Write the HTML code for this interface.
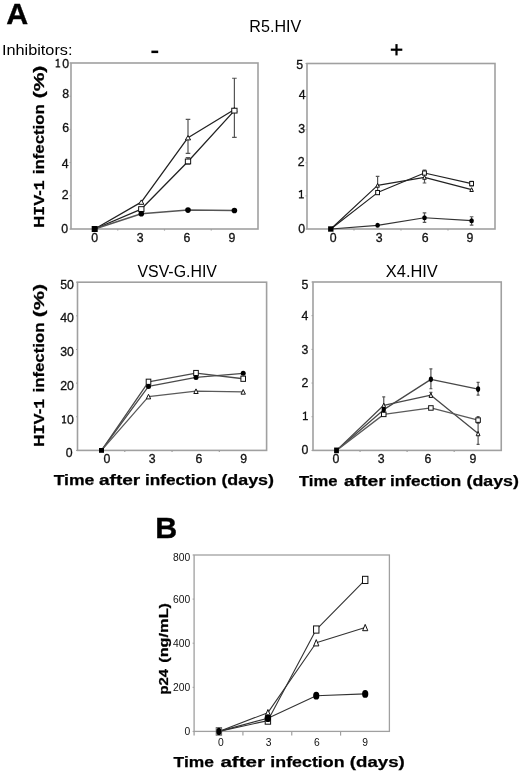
<!DOCTYPE html><html><head><meta charset="utf-8"><style>html,body{margin:0;padding:0;background:#fff;}svg{display:block;will-change:transform;} text{font-family:"Liberation Sans", sans-serif;}</style></head><body>
<svg width="520" height="772" viewBox="0 0 520 772">
<text x="6.2" y="24.3" font-size="30.4" text-anchor="start" font-weight="bold" fill="#000" stroke="#000" stroke-width="0.35" >A</text>
<text x="155.3" y="538.2" font-size="30.4" text-anchor="start" font-weight="bold" fill="#000" stroke="#000" stroke-width="0.35" >B</text>
<rect x="151.4" y="50.6" width="6.8" height="2.5" fill="#000"/>
<rect x="390.8" y="48.6" width="11.5" height="2.2" fill="#000"/>
<rect x="395.4" y="44.1" width="2.2" height="11.3" fill="#000"/>
<text x="1.9" y="54.9" font-size="15.4" font-weight="normal" fill="#000" textLength="70.59" lengthAdjust="spacingAndGlyphs" stroke="#000" stroke-width="0">Inhibitors:</text>
<text x="249.38" y="31.9" font-size="15.8" font-weight="normal" fill="#000" textLength="51.89" lengthAdjust="spacingAndGlyphs" stroke="#000" stroke-width="0">R5.HIV</text>
<text x="137.43" y="276.8" font-size="15.8" font-weight="normal" fill="#000" textLength="79.54" lengthAdjust="spacingAndGlyphs" stroke="#000" stroke-width="0">VSV-G.HIV</text>
<text x="385.83" y="276.9" font-size="15.8" font-weight="normal" fill="#000" textLength="51.94" lengthAdjust="spacingAndGlyphs" stroke="#000" stroke-width="0">X4.HIV</text>
<text x="53.7" y="485.2" font-size="14.0" font-weight="bold" fill="#000" textLength="40.69" lengthAdjust="spacingAndGlyphs" stroke="#000" stroke-width="0.25">Time</text>
<text x="98.94" y="485.2" font-size="14.0" font-weight="bold" fill="#000" textLength="41.35" lengthAdjust="spacingAndGlyphs" stroke="#000" stroke-width="0.25">after</text>
<text x="145" y="485.2" font-size="14.0" font-weight="bold" fill="#000" textLength="71.46" lengthAdjust="spacingAndGlyphs" stroke="#000" stroke-width="0.25">infection</text>
<text x="221.41" y="485.2" font-size="14.0" font-weight="bold" fill="#000" textLength="52.58" lengthAdjust="spacingAndGlyphs" stroke="#000" stroke-width="0.25">(days)</text>
<text x="299.01" y="486.2" font-size="14.0" font-weight="bold" fill="#000" textLength="38.45" lengthAdjust="spacingAndGlyphs" stroke="#000" stroke-width="0.25">Time</text>
<text x="344.04" y="486.2" font-size="14.0" font-weight="bold" fill="#000" textLength="41.65" lengthAdjust="spacingAndGlyphs" stroke="#000" stroke-width="0.25">after</text>
<text x="390.01" y="486.2" font-size="14.0" font-weight="bold" fill="#000" textLength="71.25" lengthAdjust="spacingAndGlyphs" stroke="#000" stroke-width="0.25">infection</text>
<text x="466.62" y="486.2" font-size="14.0" font-weight="bold" fill="#000" textLength="52.27" lengthAdjust="spacingAndGlyphs" stroke="#000" stroke-width="0.25">(days)</text>
<text x="173.61" y="766.8" font-size="14.6" font-weight="bold" fill="#000" textLength="40.28" lengthAdjust="spacingAndGlyphs" stroke="#000" stroke-width="0.25">Time</text>
<text x="220.4" y="766.8" font-size="14.6" font-weight="bold" fill="#000" textLength="44.61" lengthAdjust="spacingAndGlyphs" stroke="#000" stroke-width="0.25">after</text>
<text x="270.36" y="766.8" font-size="14.6" font-weight="bold" fill="#000" textLength="74.15" lengthAdjust="spacingAndGlyphs" stroke="#000" stroke-width="0.25">infection</text>
<text x="349.87" y="766.8" font-size="14.6" font-weight="bold" fill="#000" textLength="54.96" lengthAdjust="spacingAndGlyphs" stroke="#000" stroke-width="0.25">(days)</text>
<text transform="translate(44,0) rotate(-90)" x="-98.35" y="0" font-size="14.0" font-weight="bold" fill="#000" textLength="32.69" lengthAdjust="spacingAndGlyphs" stroke="#000" stroke-width="0.25">(%)</text>
<text transform="translate(44,0) rotate(-90)" x="-174.17" y="0" font-size="14.0" font-weight="bold" fill="#000" textLength="69.81" lengthAdjust="spacingAndGlyphs" stroke="#000" stroke-width="0.25">infection</text>
<text transform="translate(44,0) rotate(-90)" x="-227.79" y="0" font-size="14.0" font-weight="bold" fill="#000" textLength="47.48" lengthAdjust="spacingAndGlyphs" stroke="#000" stroke-width="0.25">H<tspan font-family="Liberation Mono">I</tspan>V-<tspan font-family="Liberation Mono">1</tspan></text>
<text transform="translate(44,0) rotate(-90)" x="-317.16" y="0" font-size="14.0" font-weight="bold" fill="#000" textLength="33.23" lengthAdjust="spacingAndGlyphs" stroke="#000" stroke-width="0.25">(%)</text>
<text transform="translate(44,0) rotate(-90)" x="-392.47" y="0" font-size="14.0" font-weight="bold" fill="#000" textLength="69.91" lengthAdjust="spacingAndGlyphs" stroke="#000" stroke-width="0.25">infection</text>
<text transform="translate(44,0) rotate(-90)" x="-446.7" y="0" font-size="14.0" font-weight="bold" fill="#000" textLength="48.1" lengthAdjust="spacingAndGlyphs" stroke="#000" stroke-width="0.25">H<tspan font-family="Liberation Mono">I</tspan>V-<tspan font-family="Liberation Mono">1</tspan></text>
<text transform="translate(168.3,0) rotate(-90)" x="-662.81" y="0" font-size="12.3" font-weight="bold" fill="#000" textLength="59.83" lengthAdjust="spacingAndGlyphs" stroke="#000" stroke-width="0.25">(ng/mL)</text>
<text transform="translate(168.3,0) rotate(-90)" x="-694.48" y="0" font-size="12.3" font-weight="bold" fill="#000" textLength="25.56" lengthAdjust="spacingAndGlyphs" stroke="#000" stroke-width="0.25">p24</text>
<rect x="71" y="63" width="187" height="166" fill="none" stroke="#a0a0a0" stroke-width="1.6"/>
<line x1="117.75" y1="229" x2="117.75" y2="230.6" stroke="#a0a0a0" stroke-width="1.2"/>
<line x1="164.5" y1="229" x2="164.5" y2="230.6" stroke="#a0a0a0" stroke-width="1.2"/>
<line x1="211.25" y1="229" x2="211.25" y2="230.6" stroke="#a0a0a0" stroke-width="1.2"/>
<line x1="69.5" y1="229" x2="71" y2="229" stroke="#a0a0a0" stroke-width="1"/>
<text x="68.1" y="232.94" font-size="12.3" text-anchor="end" font-weight="normal" fill="#111" stroke="#111" stroke-width="0.3" >0</text>
<line x1="69.5" y1="195.8" x2="71" y2="195.8" stroke="#a0a0a0" stroke-width="1"/>
<text x="68.6" y="199.14" font-size="12.3" text-anchor="end" font-weight="normal" fill="#111" stroke="#111" stroke-width="0.3" >2</text>
<line x1="69.5" y1="162.6" x2="71" y2="162.6" stroke="#a0a0a0" stroke-width="1"/>
<text x="68.7" y="167.54" font-size="12.3" text-anchor="end" font-weight="normal" fill="#111" stroke="#111" stroke-width="0.3" >4</text>
<line x1="69.5" y1="129.4" x2="71" y2="129.4" stroke="#a0a0a0" stroke-width="1"/>
<text x="69" y="132.24" font-size="12.3" text-anchor="end" font-weight="normal" fill="#111" stroke="#111" stroke-width="0.3" >6</text>
<line x1="69.5" y1="96.2" x2="71" y2="96.2" stroke="#a0a0a0" stroke-width="1"/>
<text x="69" y="98.04" font-size="12.3" text-anchor="end" font-weight="normal" fill="#111" stroke="#111" stroke-width="0.3" >8</text>
<line x1="69.5" y1="63" x2="71" y2="63" stroke="#a0a0a0" stroke-width="1"/>
<path d="M58 58.7V67.5M55.7 66.85H60.2M58.65 59.22L55.7 60.6" stroke="#111" stroke-width="1.3" fill="none"/>
<text x="69.2" y="67.64" font-size="12.3" text-anchor="end" font-weight="normal" fill="#111" stroke="#111" stroke-width="0.3" >0</text>
<text x="94.7" y="242.24" font-size="12.3" text-anchor="middle" font-weight="normal" fill="#111" stroke="#111" stroke-width="0.3" >0</text>
<text x="140.2" y="242.24" font-size="12.3" text-anchor="middle" font-weight="normal" fill="#111" stroke="#111" stroke-width="0.3" >3</text>
<text x="186.9" y="242.24" font-size="12.3" text-anchor="middle" font-weight="normal" fill="#111" stroke="#111" stroke-width="0.3" >6</text>
<text x="231.9" y="242.24" font-size="12.3" text-anchor="middle" font-weight="normal" fill="#111" stroke="#111" stroke-width="0.3" >9</text>
<path d="M188 119.44V153.47M185.7 119.44H190.3M185.7 153.47H190.3" stroke="#555" stroke-width="1.2" fill="none"/>
<path d="M188 157.62V164.26M185.7 157.62H190.3M185.7 164.26H190.3" stroke="#555" stroke-width="1.2" fill="none"/>
<path d="M234.4 78.27V137.37M232.1 78.27H236.7M232.1 137.37H236.7" stroke="#555" stroke-width="1.2" fill="none"/>
<polyline points="94.7,229 141.3,209.08 188,161.44 234.4,110.64" fill="none" stroke="#222" stroke-width="1.3" stroke-linejoin="round"/>
<polyline points="94.7,229 141.3,202.11 188,137.7 234.4,109.48" fill="none" stroke="#222" stroke-width="1.3" stroke-linejoin="round"/>
<polyline points="94.7,229 141.3,213.73 188,210.08 234.4,210.57" fill="none" stroke="#555" stroke-width="1.5" stroke-linejoin="round"/>
<polygon points="141.3,199.91 143.9,204.31 138.7,204.31" fill="#fff" stroke="#111" stroke-width="1.0" stroke-linejoin="miter"/>
<polygon points="188,135.5 190.6,139.9 185.4,139.9" fill="#fff" stroke="#111" stroke-width="1.0" stroke-linejoin="miter"/>
<polygon points="234.4,107.28 237,111.68 231.8,111.68" fill="#fff" stroke="#111" stroke-width="1.0" stroke-linejoin="miter"/>
<rect x="138.65" y="206.68" width="5.3" height="4.8" fill="#fff" stroke="#111" stroke-width="1.0"/>
<rect x="185.35" y="159.04" width="5.3" height="4.8" fill="#fff" stroke="#111" stroke-width="1.0"/>
<rect x="231.75" y="108.24" width="5.3" height="4.8" fill="#fff" stroke="#111" stroke-width="1.0"/>
<ellipse cx="141.3" cy="213.73" rx="2.8" ry="2.8" fill="#000"/>
<ellipse cx="188" cy="210.08" rx="2.8" ry="2.8" fill="#000"/>
<ellipse cx="234.4" cy="210.57" rx="2.8" ry="2.8" fill="#000"/>
<rect x="91.7" y="226" width="6" height="6" fill="#000"/>
<rect x="307" y="63.5" width="188" height="165.5" fill="none" stroke="#a0a0a0" stroke-width="1.6"/>
<line x1="354" y1="229" x2="354" y2="230.6" stroke="#a0a0a0" stroke-width="1.2"/>
<line x1="401" y1="229" x2="401" y2="230.6" stroke="#a0a0a0" stroke-width="1.2"/>
<line x1="448" y1="229" x2="448" y2="230.6" stroke="#a0a0a0" stroke-width="1.2"/>
<line x1="305.5" y1="229" x2="307" y2="229" stroke="#a0a0a0" stroke-width="1"/>
<text x="305" y="233.24" font-size="12.3" text-anchor="end" font-weight="normal" fill="#111" stroke="#111" stroke-width="0.3" >0</text>
<line x1="305.5" y1="195.9" x2="307" y2="195.9" stroke="#a0a0a0" stroke-width="1"/>
<path d="M301.45 189.9V198.6M298.9 197.95H303.9M302.1 190.42L298.9 191.8" stroke="#111" stroke-width="1.3" fill="none"/>
<line x1="305.5" y1="162.8" x2="307" y2="162.8" stroke="#a0a0a0" stroke-width="1"/>
<text x="304.6" y="165.94" font-size="12.3" text-anchor="end" font-weight="normal" fill="#111" stroke="#111" stroke-width="0.3" >2</text>
<line x1="305.5" y1="129.7" x2="307" y2="129.7" stroke="#a0a0a0" stroke-width="1"/>
<text x="305" y="132.64" font-size="12.3" text-anchor="end" font-weight="normal" fill="#111" stroke="#111" stroke-width="0.3" >3</text>
<line x1="305.5" y1="96.6" x2="307" y2="96.6" stroke="#a0a0a0" stroke-width="1"/>
<text x="305.5" y="98.64" font-size="12.3" text-anchor="end" font-weight="normal" fill="#111" stroke="#111" stroke-width="0.3" >4</text>
<line x1="305.5" y1="63.5" x2="307" y2="63.5" stroke="#a0a0a0" stroke-width="1"/>
<text x="303" y="69.44" font-size="12.3" text-anchor="end" font-weight="normal" fill="#111" stroke="#111" stroke-width="0.3" >5</text>
<text x="333.2" y="241.94" font-size="12.3" text-anchor="middle" font-weight="normal" fill="#111" stroke="#111" stroke-width="0.3" >0</text>
<text x="379.2" y="241.94" font-size="12.3" text-anchor="middle" font-weight="normal" fill="#111" stroke="#111" stroke-width="0.3" >3</text>
<text x="425.1" y="241.94" font-size="12.3" text-anchor="middle" font-weight="normal" fill="#111" stroke="#111" stroke-width="0.3" >6</text>
<text x="470" y="241.94" font-size="12.3" text-anchor="middle" font-weight="normal" fill="#111" stroke="#111" stroke-width="0.3" >9</text>
<path d="M377.6 176.37V192.59M375.8 176.37H379.4M375.8 192.59H379.4" stroke="#555" stroke-width="1.2" fill="none"/>
<path d="M424.5 170.08V182.99M422.7 170.08H426.3M422.7 182.99H426.3" stroke="#555" stroke-width="1.2" fill="none"/>
<path d="M424.5 212.78V222.38M422.7 212.78H426.3M422.7 222.38H426.3" stroke="#555" stroke-width="1.2" fill="none"/>
<path d="M471.6 216.75V225.03M469.8 216.75H473.4M469.8 225.03H473.4" stroke="#555" stroke-width="1.2" fill="none"/>
<path d="M471.6 181.34V185.97M469.8 181.34H473.4M469.8 185.97H473.4" stroke="#555" stroke-width="1.2" fill="none"/>
<polyline points="330.8,229 377.6,192.59 424.5,173.06 471.6,183.65" fill="none" stroke="#222" stroke-width="1.15" stroke-linejoin="round"/>
<polyline points="330.8,229 377.6,185.31 424.5,177.36 471.6,189.61" fill="none" stroke="#222" stroke-width="1.15" stroke-linejoin="round"/>
<polyline points="330.8,229 377.6,225.36 424.5,217.75 471.6,220.72" fill="none" stroke="#333" stroke-width="1.2" stroke-linejoin="round"/>
<polygon points="377.6,183.41 379.4,187.21 375.8,187.21" fill="#fff" stroke="#111" stroke-width="1.0" stroke-linejoin="miter"/>
<polygon points="424.5,175.46 426.3,179.26 422.7,179.26" fill="#fff" stroke="#111" stroke-width="1.0" stroke-linejoin="miter"/>
<polygon points="471.6,187.71 473.4,191.51 469.8,191.51" fill="#fff" stroke="#111" stroke-width="1.0" stroke-linejoin="miter"/>
<rect x="375.7" y="190.49" width="3.8" height="4.2" fill="#fff" stroke="#111" stroke-width="1.0"/>
<rect x="422.6" y="170.96" width="3.8" height="4.2" fill="#fff" stroke="#111" stroke-width="1.0"/>
<rect x="469.7" y="181.55" width="3.8" height="4.2" fill="#fff" stroke="#111" stroke-width="1.0"/>
<ellipse cx="377.6" cy="225.36" rx="2.3" ry="2.5" fill="#000"/>
<ellipse cx="424.5" cy="217.75" rx="2.3" ry="2.5" fill="#000"/>
<ellipse cx="471.6" cy="220.72" rx="2.3" ry="2.5" fill="#000"/>
<rect x="328.1" y="226.3" width="5.4" height="5.4" fill="#000"/>
<rect x="77.5" y="282.2" width="189.1" height="168.2" fill="none" stroke="#a0a0a0" stroke-width="1.6"/>
<line x1="124.78" y1="450.4" x2="124.78" y2="452" stroke="#a0a0a0" stroke-width="1.2"/>
<line x1="172.05" y1="450.4" x2="172.05" y2="452" stroke="#a0a0a0" stroke-width="1.2"/>
<line x1="219.33" y1="450.4" x2="219.33" y2="452" stroke="#a0a0a0" stroke-width="1.2"/>
<line x1="76" y1="450.4" x2="77.5" y2="450.4" stroke="#a0a0a0" stroke-width="1"/>
<text x="72.5" y="456.64" font-size="12.3" text-anchor="end" font-weight="normal" fill="#111" stroke="#111" stroke-width="0.3" >0</text>
<line x1="76" y1="416.76" x2="77.5" y2="416.76" stroke="#a0a0a0" stroke-width="1"/>
<path d="M64.19 415.3V423.6M62 422.95H66.3M64.84 415.82L62 417.2" stroke="#111" stroke-width="1.3" fill="none"/>
<text x="73.9" y="423.74" font-size="12.3" text-anchor="end" font-weight="normal" fill="#111" stroke="#111" stroke-width="0.3" >0</text>
<line x1="76" y1="383.12" x2="77.5" y2="383.12" stroke="#a0a0a0" stroke-width="1"/>
<text x="73.9" y="389.64" font-size="12.3" text-anchor="end" font-weight="normal" fill="#111" stroke="#111" stroke-width="0.3" >20</text>
<line x1="76" y1="349.48" x2="77.5" y2="349.48" stroke="#a0a0a0" stroke-width="1"/>
<text x="73.9" y="355.64" font-size="12.3" text-anchor="end" font-weight="normal" fill="#111" stroke="#111" stroke-width="0.3" >30</text>
<line x1="76" y1="315.84" x2="77.5" y2="315.84" stroke="#a0a0a0" stroke-width="1"/>
<text x="73.9" y="321.84" font-size="12.3" text-anchor="end" font-weight="normal" fill="#111" stroke="#111" stroke-width="0.3" >40</text>
<line x1="76" y1="282.2" x2="77.5" y2="282.2" stroke="#a0a0a0" stroke-width="1"/>
<text x="73.9" y="288.64" font-size="12.3" text-anchor="end" font-weight="normal" fill="#111" stroke="#111" stroke-width="0.3" >50</text>
<text x="106.9" y="463.14" font-size="12.3" text-anchor="middle" font-weight="normal" fill="#111" stroke="#111" stroke-width="0.3" >0</text>
<text x="152.2" y="463.14" font-size="12.3" text-anchor="middle" font-weight="normal" fill="#111" stroke="#111" stroke-width="0.3" >3</text>
<text x="198.9" y="463.14" font-size="12.3" text-anchor="middle" font-weight="normal" fill="#111" stroke="#111" stroke-width="0.3" >6</text>
<text x="243.6" y="463.14" font-size="12.3" text-anchor="middle" font-weight="normal" fill="#111" stroke="#111" stroke-width="0.3" >9</text>
<polyline points="101.5,450.4 148.5,381.77 196,373.03 243.2,378.75" fill="none" stroke="#4a4a4a" stroke-width="1.3" stroke-linejoin="round"/>
<polyline points="101.5,450.4 148.5,386.48 196,377.4 243.2,373.36" fill="none" stroke="#4a4a4a" stroke-width="1.3" stroke-linejoin="round"/>
<polyline points="101.5,450.4 148.5,396.58 196,391.19 243.2,391.87" fill="none" stroke="#5a5a5a" stroke-width="1.3" stroke-linejoin="round"/>
<polygon points="148.5,394.28 150.7,398.88 146.3,398.88" fill="#fff" stroke="#111" stroke-width="1.0" stroke-linejoin="miter"/>
<polygon points="196,388.89 198.2,393.49 193.8,393.49" fill="#fff" stroke="#111" stroke-width="1.0" stroke-linejoin="miter"/>
<polygon points="243.2,389.57 245.4,394.17 241,394.17" fill="#fff" stroke="#111" stroke-width="1.0" stroke-linejoin="miter"/>
<rect x="146.2" y="379.17" width="4.6" height="5.2" fill="#fff" stroke="#111" stroke-width="1.0"/>
<rect x="193.7" y="370.43" width="4.6" height="5.2" fill="#fff" stroke="#111" stroke-width="1.0"/>
<rect x="240.9" y="376.15" width="4.6" height="5.2" fill="#fff" stroke="#111" stroke-width="1.0"/>
<ellipse cx="148.5" cy="386.48" rx="2.5" ry="2.5" fill="#000"/>
<ellipse cx="196" cy="377.4" rx="2.5" ry="2.5" fill="#000"/>
<ellipse cx="243.2" cy="373.36" rx="2.5" ry="2.5" fill="#000"/>
<rect x="99" y="448" width="5" height="4.8" fill="#000"/>
<rect x="313" y="282" width="188.25" height="168.4" fill="none" stroke="#a0a0a0" stroke-width="1.6"/>
<line x1="360.06" y1="450.4" x2="360.06" y2="452" stroke="#a0a0a0" stroke-width="1.2"/>
<line x1="407.12" y1="450.4" x2="407.12" y2="452" stroke="#a0a0a0" stroke-width="1.2"/>
<line x1="454.19" y1="450.4" x2="454.19" y2="452" stroke="#a0a0a0" stroke-width="1.2"/>
<line x1="311.5" y1="450.4" x2="313" y2="450.4" stroke="#a0a0a0" stroke-width="1"/>
<text x="308.3" y="453.94" font-size="12.3" text-anchor="end" font-weight="normal" fill="#111" stroke="#111" stroke-width="0.3" >0</text>
<line x1="311.5" y1="416.72" x2="313" y2="416.72" stroke="#a0a0a0" stroke-width="1"/>
<path d="M305.45 411.6V420.2M302.9 419.55H307.9M306.1 412.12L302.9 413.5" stroke="#111" stroke-width="1.3" fill="none"/>
<line x1="311.5" y1="383.04" x2="313" y2="383.04" stroke="#a0a0a0" stroke-width="1"/>
<text x="308.3" y="387.24" font-size="12.3" text-anchor="end" font-weight="normal" fill="#111" stroke="#111" stroke-width="0.3" >2</text>
<line x1="311.5" y1="349.36" x2="313" y2="349.36" stroke="#a0a0a0" stroke-width="1"/>
<text x="308.3" y="354.34" font-size="12.3" text-anchor="end" font-weight="normal" fill="#111" stroke="#111" stroke-width="0.3" >3</text>
<line x1="311.5" y1="315.68" x2="313" y2="315.68" stroke="#a0a0a0" stroke-width="1"/>
<text x="308.3" y="319.64" font-size="12.3" text-anchor="end" font-weight="normal" fill="#111" stroke="#111" stroke-width="0.3" >4</text>
<line x1="311.5" y1="282" x2="313" y2="282" stroke="#a0a0a0" stroke-width="1"/>
<text x="308.3" y="288.64" font-size="12.3" text-anchor="end" font-weight="normal" fill="#111" stroke="#111" stroke-width="0.3" >5</text>
<text x="336" y="462.94" font-size="12.3" text-anchor="middle" font-weight="normal" fill="#111" stroke="#111" stroke-width="0.3" >0</text>
<text x="381.2" y="462.94" font-size="12.3" text-anchor="middle" font-weight="normal" fill="#111" stroke="#111" stroke-width="0.3" >3</text>
<text x="427.8" y="462.94" font-size="12.3" text-anchor="middle" font-weight="normal" fill="#111" stroke="#111" stroke-width="0.3" >6</text>
<text x="473" y="462.94" font-size="12.3" text-anchor="middle" font-weight="normal" fill="#111" stroke="#111" stroke-width="0.3" >9</text>
<path d="M383.75 396.85V413.35M382.25 396.85H385.25M382.25 413.35H385.25" stroke="#555" stroke-width="1.2" fill="none"/>
<path d="M430.9 368.89V388.77M429.4 368.89H432.4M429.4 388.77H432.4" stroke="#555" stroke-width="1.2" fill="none"/>
<path d="M478.1 382.37V395.16M476.6 382.37H479.6M476.6 395.16H479.6" stroke="#555" stroke-width="1.2" fill="none"/>
<path d="M478.1 422.78V444.34M476.6 422.78H479.6M476.6 444.34H479.6" stroke="#555" stroke-width="1.2" fill="none"/>
<path d="M478.1 416.72V423.46M476.6 416.72H479.6M476.6 423.46H479.6" stroke="#555" stroke-width="1.2" fill="none"/>
<path d="M430.9 392.47V397.19M429.4 392.47H432.4M429.4 397.19H432.4" stroke="#555" stroke-width="1.2" fill="none"/>
<polyline points="336.5,450.4 383.75,409.65 430.9,379.34 478.1,389.1" fill="none" stroke="#484848" stroke-width="1.3" stroke-linejoin="round"/>
<polyline points="336.5,450.4 383.75,405.27 430.9,395.16 478.1,433.56" fill="none" stroke="#484848" stroke-width="1.3" stroke-linejoin="round"/>
<polyline points="336.5,450.4 383.75,414.36 430.9,407.96 478.1,420.09" fill="none" stroke="#5a5a5a" stroke-width="1.3" stroke-linejoin="round"/>
<polygon points="383.75,403.07 385.65,407.47 381.85,407.47" fill="#fff" stroke="#111" stroke-width="1.0" stroke-linejoin="miter"/>
<polygon points="430.9,392.96 432.8,397.36 429,397.36" fill="#fff" stroke="#111" stroke-width="1.0" stroke-linejoin="miter"/>
<polygon points="478.1,431.36 480,435.76 476.2,435.76" fill="#fff" stroke="#111" stroke-width="1.0" stroke-linejoin="miter"/>
<rect x="381.5" y="412.11" width="4.5" height="4.5" fill="#fff" stroke="#111" stroke-width="1.0"/>
<rect x="428.65" y="405.71" width="4.5" height="4.5" fill="#fff" stroke="#111" stroke-width="1.0"/>
<rect x="475.85" y="417.84" width="4.5" height="4.5" fill="#fff" stroke="#111" stroke-width="1.0"/>
<ellipse cx="383.75" cy="409.65" rx="2.1" ry="2.8" fill="#000"/>
<ellipse cx="430.9" cy="379.34" rx="2.1" ry="2.8" fill="#000"/>
<ellipse cx="478.1" cy="389.1" rx="2.1" ry="2.8" fill="#000"/>
<rect x="334.1" y="447.55" width="4.8" height="5.7" fill="#000"/>
<rect x="194.1" y="555" width="195.3" height="176.4" fill="none" stroke="#a0a0a0" stroke-width="1.3"/>
<line x1="194.1" y1="731.4" x2="194.1" y2="735.6" stroke="#a0a0a0" stroke-width="1.3"/>
<line x1="242.92" y1="731.4" x2="242.92" y2="735.6" stroke="#a0a0a0" stroke-width="1.2"/>
<line x1="291.75" y1="731.4" x2="291.75" y2="735.6" stroke="#a0a0a0" stroke-width="1.2"/>
<line x1="340.57" y1="731.4" x2="340.57" y2="735.6" stroke="#a0a0a0" stroke-width="1.2"/>
<line x1="192.6" y1="731.4" x2="194.1" y2="731.4" stroke="#a0a0a0" stroke-width="1"/>
<text x="190.2" y="734.95" font-size="10.3" text-anchor="end" font-weight="normal" fill="#111" >0</text>
<line x1="192.6" y1="687.3" x2="194.1" y2="687.3" stroke="#a0a0a0" stroke-width="1"/>
<text x="190.2" y="690.75" font-size="10.3" text-anchor="end" font-weight="normal" fill="#111" >200</text>
<line x1="192.6" y1="643.2" x2="194.1" y2="643.2" stroke="#a0a0a0" stroke-width="1"/>
<text x="190.2" y="646.95" font-size="10.3" text-anchor="end" font-weight="normal" fill="#111" >400</text>
<line x1="192.6" y1="599.1" x2="194.1" y2="599.1" stroke="#a0a0a0" stroke-width="1"/>
<text x="190.2" y="603.05" font-size="10.3" text-anchor="end" font-weight="normal" fill="#111" >600</text>
<line x1="192.6" y1="555" x2="194.1" y2="555" stroke="#a0a0a0" stroke-width="1"/>
<text x="190.2" y="560.55" font-size="10.3" text-anchor="end" font-weight="normal" fill="#111" >800</text>
<text x="220.8" y="745.75" font-size="10.3" text-anchor="middle" font-weight="normal" fill="#111" >0</text>
<text x="268.7" y="745.75" font-size="10.3" text-anchor="middle" font-weight="normal" fill="#111" >3</text>
<text x="316.9" y="745.75" font-size="10.3" text-anchor="middle" font-weight="normal" fill="#111" >6</text>
<text x="365.1" y="745.75" font-size="10.3" text-anchor="middle" font-weight="normal" fill="#111" >9</text>
<polyline points="218.9,731.4 267.9,720.6 316.25,629.53 365.2,579.92" fill="none" stroke="#333" stroke-width="1.1" stroke-linejoin="round"/>
<polyline points="218.9,731.4 267.9,712.66 316.25,642.76 365.2,627.54" fill="none" stroke="#333" stroke-width="1.1" stroke-linejoin="round"/>
<polyline points="218.9,731.4 267.9,718.17 316.25,695.68 365.2,693.91" fill="none" stroke="#333" stroke-width="1.1" stroke-linejoin="round"/>
<polygon points="267.9,709.51 270.5,715.81 265.3,715.81" fill="#fff" stroke="#111" stroke-width="1.0" stroke-linejoin="miter"/>
<polygon points="316.25,639.61 318.85,645.91 313.65,645.91" fill="#fff" stroke="#111" stroke-width="1.0" stroke-linejoin="miter"/>
<polygon points="365.2,624.39 367.8,630.69 362.6,630.69" fill="#fff" stroke="#111" stroke-width="1.0" stroke-linejoin="miter"/>
<rect x="265.2" y="717" width="5.4" height="7.2" fill="#fff" stroke="#111" stroke-width="1.0"/>
<rect x="313.55" y="625.93" width="5.4" height="7.2" fill="#fff" stroke="#111" stroke-width="1.0"/>
<rect x="362.5" y="576.32" width="5.4" height="7.2" fill="#fff" stroke="#111" stroke-width="1.0"/>
<ellipse cx="267.9" cy="718.17" rx="3.1" ry="3.9" fill="#000"/>
<ellipse cx="316.25" cy="695.68" rx="3.1" ry="3.9" fill="#000"/>
<ellipse cx="365.2" cy="693.91" rx="3.1" ry="3.9" fill="#000"/>
<rect x="216.2" y="727.6" width="5.4" height="7.6" fill="#fff" stroke="#666" stroke-width="1"/>
<ellipse cx="218.9" cy="731.4" rx="2.6" ry="3.7" fill="#000"/>
</svg></body></html>
